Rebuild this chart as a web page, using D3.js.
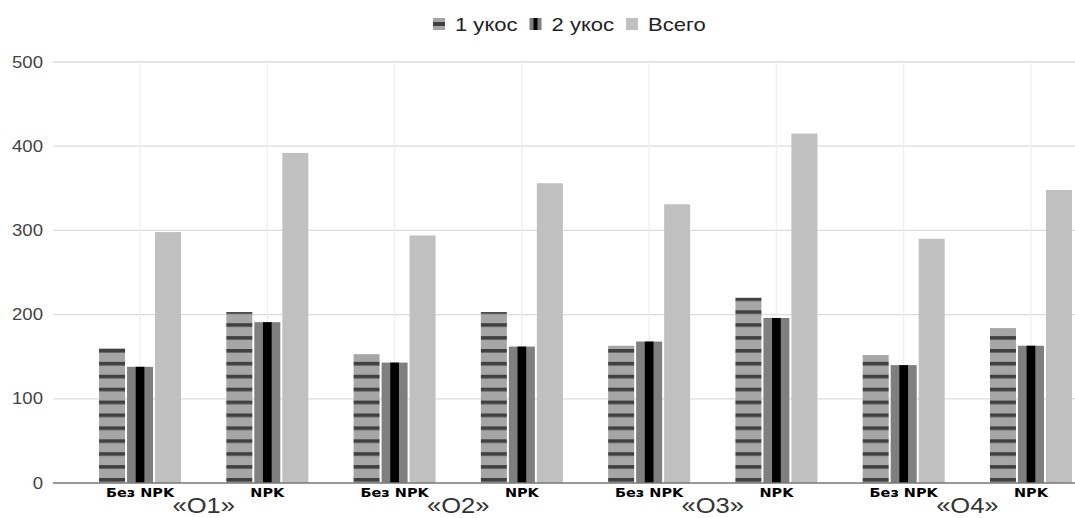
<!DOCTYPE html>
<html>
<head>
<meta charset="utf-8">
<script src="https://cdn.jsdelivr.net/npm/d3@7"></script>
<style>
    body { margin: 0; background: #fff; }
    text { font-family: "Liberation Sans", Arial, sans-serif; }
</style>
</head>
<body>
<div id="chart"></div>
<script>
// groups and sub categories
var groups = ["«О1»", "«О2»", "«О3»", "«О4»"];
var treatments = ["Без NPK", "NPK"];
var seriesNames = ["1 укос", "2 укос", "Всего"];

// values, one entry per group x treatment
var cut1 = [160, 203, 153, 203, 163, 220, 152, 184];
var cut2 = [138, 191, 143, 162, 168, 196, 140, 163];
var total = [298, 392, 294, 356, 331, 415, 290, 348];

var yTicks = [0, 100, 200, 300, 400, 500];

var svgWidth = 1075;
var svgHeight = 518;
// the original picture is a bit stretched sideways
var stretch = 1.16;

// build rows
var rows = [];
groups.forEach(function (g, gi) {
    treatments.forEach(function (t, ti) {
        var i = gi * 2 + ti;
        rows.push({ key: g + "|" + t, group: g, treatment: t, values: [cut1[i], cut2[i], total[i]] });
    });
});

var svg = d3.select("#chart").append("svg")
    .attr("width", svgWidth)
    .attr("height", svgHeight);

var defs = svg.append("defs");

// striped fill for "1 укос"
var stripes = defs.append("pattern")
    .attr("id", "stripes")
    .attr("patternUnits", "userSpaceOnUse")
    .attr("x", 0)
    .attr("y", 349)
    .attr("width", 10)
    .attr("height", 12.9);
stripes.append("rect").attr("width", 10).attr("height", 12.9).attr("fill", "#a6a6a6");
stripes.append("rect").attr("width", 10).attr("height", 3.6).attr("fill", "#404040");

var plotLeft = 53;
var y = d3.scaleLinear().domain([0, 500]).range([483, 62]);

// bands: continue past the right edge like the original
var x0 = d3.scaleBand()
    .domain(rows.map(d => d.key))
    .range([76.4, 1094.6]);

var x1 = d3.scaleBand()
    .domain(seriesNames)
    .range([-41, 41])
    .paddingInner(0.071);

// place a text stretched horizontally around its anchor
function stretched(sel, x, y) {
    return sel.attr("transform", `translate(${x},${y}) scale(${stretch},1)`);
}

// horizontal gridlines
svg.append("g").selectAll("line")
    .data(yTicks.slice(1))
    .enter()
    .append("line")
    .attr("x1", plotLeft)
    .attr("x2", svgWidth)
    .attr("y1", d => y(d))
    .attr("y2", d => y(d))
    .attr("stroke", "#dcdcdc")
    .attr("stroke-width", 1.3);

// y labels
svg.append("g").selectAll("text")
    .data(yTicks)
    .enter()
    .append("text")
    .each(function (d) { stretched(d3.select(this), 43, y(d) + 5.5); })
    .attr("text-anchor", "end")
    .attr("font-size", 16)
    .attr("fill", "#444")
    .text(d => d);

// faint vertical gridlines at each treatment
svg.append("g").selectAll("line")
    .data(rows)
    .enter()
    .append("line")
    .attr("x1", d => x0(d.key) + x0.bandwidth() / 2)
    .attr("x2", d => x0(d.key) + x0.bandwidth() / 2)
    .attr("y1", y(500))
    .attr("y2", y(0))
    .attr("stroke", "#efefef")
    .attr("stroke-width", 1.3);

// bars
var barGroups = svg.append("g").selectAll("g")
    .data(rows)
    .enter()
    .append("g")
    .attr("transform", d => `translate(${x0(d.key) + x0.bandwidth() / 2},0)`);

barGroups.each(function (d) {
    var g = d3.select(this);
    var bw = x1.bandwidth();

    // 1 укос
    g.append("rect")
        .attr("x", x1(seriesNames[0]))
        .attr("y", y(d.values[0]))
        .attr("width", bw)
        .attr("height", y(0) - y(d.values[0]))
        .attr("fill", "url(#stripes)");

    // 2 укос: gray with black middle
    g.append("rect")
        .attr("x", x1(seriesNames[1]))
        .attr("y", y(d.values[1]))
        .attr("width", bw)
        .attr("height", y(0) - y(d.values[1]))
        .attr("fill", "#7f7f7f");
    g.append("rect")
        .attr("x", x1(seriesNames[1]) + bw / 3)
        .attr("y", y(d.values[1]))
        .attr("width", bw / 3)
        .attr("height", y(0) - y(d.values[1]))
        .attr("fill", "#000");

    // Всего
    g.append("rect")
        .attr("x", x1(seriesNames[2]))
        .attr("y", y(d.values[2]))
        .attr("width", bw)
        .attr("height", y(0) - y(d.values[2]))
        .attr("fill", "#c0c0c0");
});

// baseline
svg.append("line")
    .attr("x1", plotLeft)
    .attr("x2", svgWidth)
    .attr("y1", y(0))
    .attr("y2", y(0))
    .attr("stroke", "#777")
    .attr("stroke-width", 1.4);

// treatment labels
svg.append("g").selectAll("text")
    .data(rows)
    .enter()
    .append("text")
    .each(function (d) { stretched(d3.select(this), x0(d.key) + x0.bandwidth() / 2, 497); })
    .attr("text-anchor", "middle")
    .attr("font-size", 12.5)
    .attr("font-weight", "bold")
    .style("font-family", "'DejaVu Sans', sans-serif")
    .attr("fill", "#000")
    .text(d => d.treatment);

// group labels
svg.append("g").selectAll("text")
    .data(groups)
    .enter()
    .append("text")
    .each(function (g, gi) {
        var cx = (x0(rows[gi * 2].key) + x0(rows[gi * 2 + 1].key)) / 2 + x0.bandwidth() / 2;
        stretched(d3.select(this), cx, 513);
    })
    .attr("text-anchor", "middle")
    .attr("font-size", 22)
    .attr("fill", "#333")
    .text(d => d);

// legend on top (sits a little right of centre in the original)
var legend = svg.append("g").attr("transform", "translate(433,0)");
var lx = 0;
seriesNames.forEach(function (name, i) {
    var item = legend.append("g").attr("transform", `translate(${lx},0)`);
    if (i === 0) {
        item.append("rect").attr("y", 18).attr("width", 12).attr("height", 12).attr("fill", "#a6a6a6");
        item.append("rect").attr("y", 22).attr("width", 12).attr("height", 4).attr("fill", "#404040");
    } else if (i === 1) {
        item.append("rect").attr("y", 18).attr("width", 12).attr("height", 12).attr("fill", "#7f7f7f");
        item.append("rect").attr("x", 4).attr("y", 18).attr("width", 4).attr("height", 12).attr("fill", "#000");
    } else {
        item.append("rect").attr("y", 18).attr("width", 12).attr("height", 12).attr("fill", "#c0c0c0");
    }
    var t = item.append("text")
        .attr("font-size", 19)
        .attr("fill", "#222")
        .text(name);
    stretched(t, 22, 31);
    lx += 22 + t.node().getComputedTextLength() * stretch + 12;
});
</script>
</body>
</html>
